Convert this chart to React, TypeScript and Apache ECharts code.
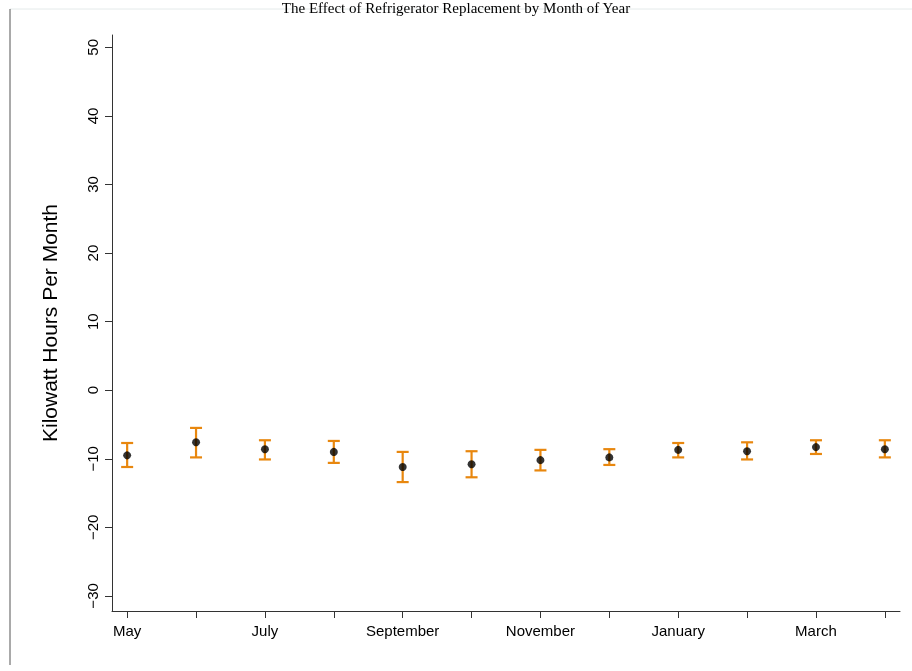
import { useEffect, useRef } from 'react'
import * as echarts from 'echarts'

const months = ['May', 'June', 'July', 'August', 'September', 'October', 'November', 'December', 'January', 'February', 'March', 'April']
const estimate = [-9.5, -7.6, -8.6, -9.0, -11.2, -10.8, -10.2, -9.8, -8.7, -8.9, -8.3, -8.6]
const upper = [-7.7, -5.5, -7.3, -7.4, -9.0, -8.9, -8.7, -8.6, -7.7, -7.6, -7.3, -7.3]
const lower = [-11.2, -9.8, -10.1, -10.6, -13.4, -12.7, -11.7, -10.9, -9.8, -10.1, -9.3, -9.8]
const yTicks = [-30, -20, -10, 0, 10, 20, 30, 40, 50]

export default function App() {
  const ref = useRef<HTMLDivElement>(null)

  useEffect(() => {
    if (!ref.current) return
    const chart = echarts.init(ref.current, null, { renderer: 'svg' })
    const axisColor = '#333'
    const xs = months.map((_, i) => i + 1)

    chart.setOption({
      animation: false,
      textStyle: { fontFamily: 'Liberation Sans, Arial, sans-serif' },
      grid: { left: 112, right: 12, top: 35, bottom: 60 },
      graphic: [
        { type: 'line', shape: { x1: 10, y1: 9, x2: 912, y2: 9 }, style: { stroke: '#e4eaea', lineWidth: 1 } },
        { type: 'line', shape: { x1: 10, y1: 9, x2: 10, y2: 665 }, style: { stroke: '#555', lineWidth: 1 } },
        {
          type: 'text', x: 456, y: 0,
          style: { text: 'The Effect of Refrigerator Replacement by Month of Year', fontSize: 15, fontFamily: 'Liberation Serif, serif', fill: '#000', align: 'center', verticalAlign: 'top' },
        },
      ],
      xAxis: {
        type: 'value',
        min: 0.78,
        max: 12.22,
        axisLine: { show: true, onZero: false, lineStyle: { color: axisColor } },
        axisTick: { show: true, length: 7, lineStyle: { color: axisColor }, customValues: xs },
        axisLabel: {
          customValues: xs,
          fontSize: 15, color: '#000', margin: 12,
          formatter: (v: number) => (Math.round(v) % 2 === 1 ? months[Math.round(v) - 1] : ''),
        },
        splitLine: { show: false },
      },
      yAxis: {
        type: 'value',
        min: -32.2,
        max: 51.8,
        name: 'Kilowatt Hours Per Month',
        nameLocation: 'middle',
        nameGap: 52,
        nameTextStyle: { fontSize: 21, color: '#000' },
        axisLine: { show: true, onZero: false, lineStyle: { color: axisColor } },
        axisTick: { show: true, length: 7, lineStyle: { color: axisColor }, customValues: yTicks },
        axisLabel: {
          customValues: yTicks, rotate: 90, fontSize: 15, color: '#000', margin: 12,
          formatter: (v: number) => String(v).replace('-', '\u2212'),
        },
        splitLine: { show: false },
      },
      series: [
        {
          type: 'custom',
          data: xs.map((x, i) => [x, lower[i], upper[i]]),
          renderItem: (_p: any, api: any) => {
            const x = api.value(0)
            const lo = api.coord([x, api.value(1)])
            const hi = api.coord([x, api.value(2)])
            const w = 12
            const style = { stroke: '#e8870e', lineWidth: 2.2 }
            return {
              type: 'group',
              children: [
                { type: 'line', shape: { x1: lo[0], y1: lo[1], x2: hi[0], y2: hi[1] }, style },
                { type: 'line', shape: { x1: lo[0] - w / 2, y1: lo[1], x2: lo[0] + w / 2, y2: lo[1] }, style },
                { type: 'line', shape: { x1: hi[0] - w / 2, y1: hi[1], x2: hi[0] + w / 2, y2: hi[1] }, style },
              ],
            }
          },
          z: 1,
        },
        {
          type: 'scatter',
          data: xs.map((x, i) => [x, estimate[i]]),
          symbolSize: 8,
          itemStyle: { color: '#000' },
          z: 2,
        },
      ],
    })
    return () => chart.dispose()
  }, [])

  return <div ref={ref} style={{ position: 'fixed', left: 0, top: 0, width: 912, height: 671 }} />
}
